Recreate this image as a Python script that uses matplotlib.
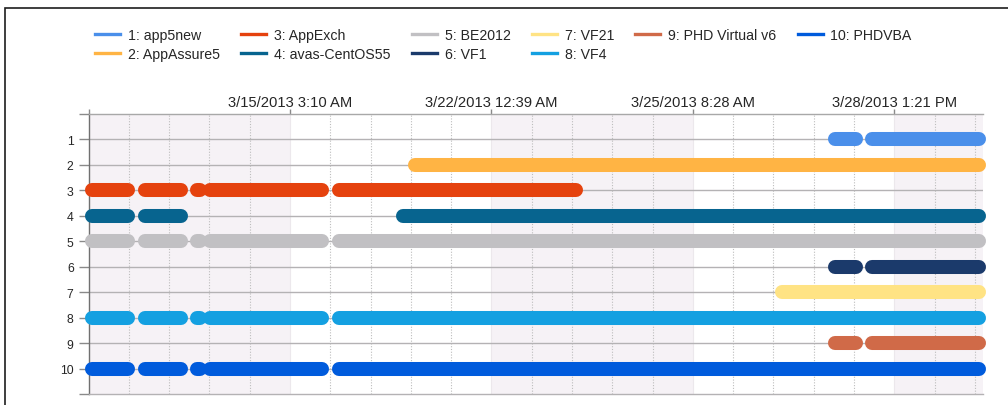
import matplotlib.pyplot as plt
from matplotlib.lines import Line2D
from matplotlib.patches import Rectangle

# job names and colours, row 1 at the top
names = ["1: app5new", "2: AppAssure5", "3: AppExch", "4: avas-CentOS55", "5: BE2012",
         "6: VF1", "7: VF21", "8: VF4", "9: PHD Virtual v6", "10: PHDVBA"]
colors = ["#4A8FEA", "#FFB444", "#E5420E", "#07648F", "#C1C0C3",
          "#1B3A6B", "#FFE384", "#14A0E1", "#D06A48", "#005BDC"]

# run segments per job (start, end) on the timeline slot axis
seg_app5new = [(18.52, 19.05), (19.44, 22.11)]
seg_appassure5 = [(8.11, 22.11)]
seg_appexch = [(0.09, 0.98), (1.39, 2.30), (2.69, 2.77), (3.01, 5.80), (6.21, 12.09)]
seg_centos = [(0.09, 0.98), (1.39, 2.30), (7.80, 22.11)]
seg_be2012 = [(0.09, 0.98), (1.39, 2.30), (2.69, 2.77), (3.01, 5.80), (6.21, 22.11)]
seg_vf1 = [(18.52, 19.05), (19.44, 22.11)]
seg_vf21 = [(17.21, 22.11)]
seg_vf4 = [(0.09, 0.98), (1.39, 2.30), (2.69, 2.77), (3.01, 5.80), (6.21, 22.11)]
seg_phdv6 = [(18.52, 19.05), (19.44, 22.11)]
seg_phdvba = [(0.09, 0.98), (1.39, 2.30), (2.69, 2.77), (3.01, 5.80), (6.21, 22.11)]
segments = [seg_app5new, seg_appassure5, seg_appexch, seg_centos, seg_be2012,
            seg_vf1, seg_vf21, seg_vf4, seg_phdv6, seg_phdvba]

tick_pos = [0, 5, 10, 15, 20]
tick_labels = ["", "3/15/2013 3:10 AM", "3/22/2013 12:39 AM",
               "3/25/2013 8:28 AM", "3/28/2013 1:21 PM"]
x_end = 22.2

plt.rcParams['font.family'] = ['Liberation Sans', 'DejaVu Sans']
txt = "#262626"

fig = plt.figure(figsize=(10.08, 4.06), dpi=100)
fig.patches.append(Rectangle((5 / 1008, -0.5), 1.5, 1.5 - 9 / 406, transform=fig.transFigure,
                             fill=False, edgecolor="#1e1e1e", lw=1.2))
ax = fig.add_axes([88.5 / 1008, 1 - 395 / 406, (983 - 88.5) / 1008, (395 - 115) / 406])

# alternating background bands
for a, b in [(0, 5), (10, 15), (20, x_end)]:
    ax.axvspan(a, b, color="#F6F2F6", lw=0, zorder=0)
for x in range(1, 23):
    if x % 5:
        ax.axvline(x, color="#BDBDBD", lw=0.8, ls=(0, (1, 1.5)), zorder=1)
    else:
        ax.axvline(x, color="#ECE8EC", lw=0.8, zorder=1)
for y in range(1, 11):
    ax.axhline(y, color="#B4B2B4", lw=1.0, zorder=1)

for i, segs in enumerate(segments):
    for s, e in segs:
        ax.plot([s, e], [i + 1, i + 1], color=colors[i], lw=10.1,
                solid_capstyle="round", clip_on=False, zorder=3)

ax.set_xlim(0, x_end)
ax.set_ylim(11, 0)
ax.set_yticks(range(0, 12))
ax.set_yticklabels([""] + [str(k) for k in range(1, 11)] + [""], fontsize=8.8, color=txt)
ax.tick_params(axis="y", length=7.2, width=1.0, color="#8A8A8A", pad=3.5)

ax.xaxis.tick_top()
ax.set_xticks(tick_pos)
ax.set_xticklabels(tick_labels, fontsize=10.6, color=txt)
ax.tick_params(axis="x", length=3.4, width=1.0, color="#8A8A8A", pad=0.5)

ax.spines["right"].set_visible(False)
ax.spines["left"].set_color("#707070")
ax.spines["top"].set_color("#A8A8A8")
ax.spines["bottom"].set_color("#B4B2B4")
for sp in ax.spines.values():
    sp.set_linewidth(1.0)

handles = [Line2D([], [], color=c, lw=2.4) for c in colors]
fig.legend(handles, names, ncol=6, loc="upper left",
           bbox_to_anchor=(95 / 1008, 1 - 29 / 406), frameon=False,
           fontsize=10.2, handlelength=1.76, handletextpad=0.56,
           columnspacing=1.5, labelspacing=0.38, borderpad=0, borderaxespad=0,
           labelcolor=txt)

fig.savefig("out.png", dpi=100)
